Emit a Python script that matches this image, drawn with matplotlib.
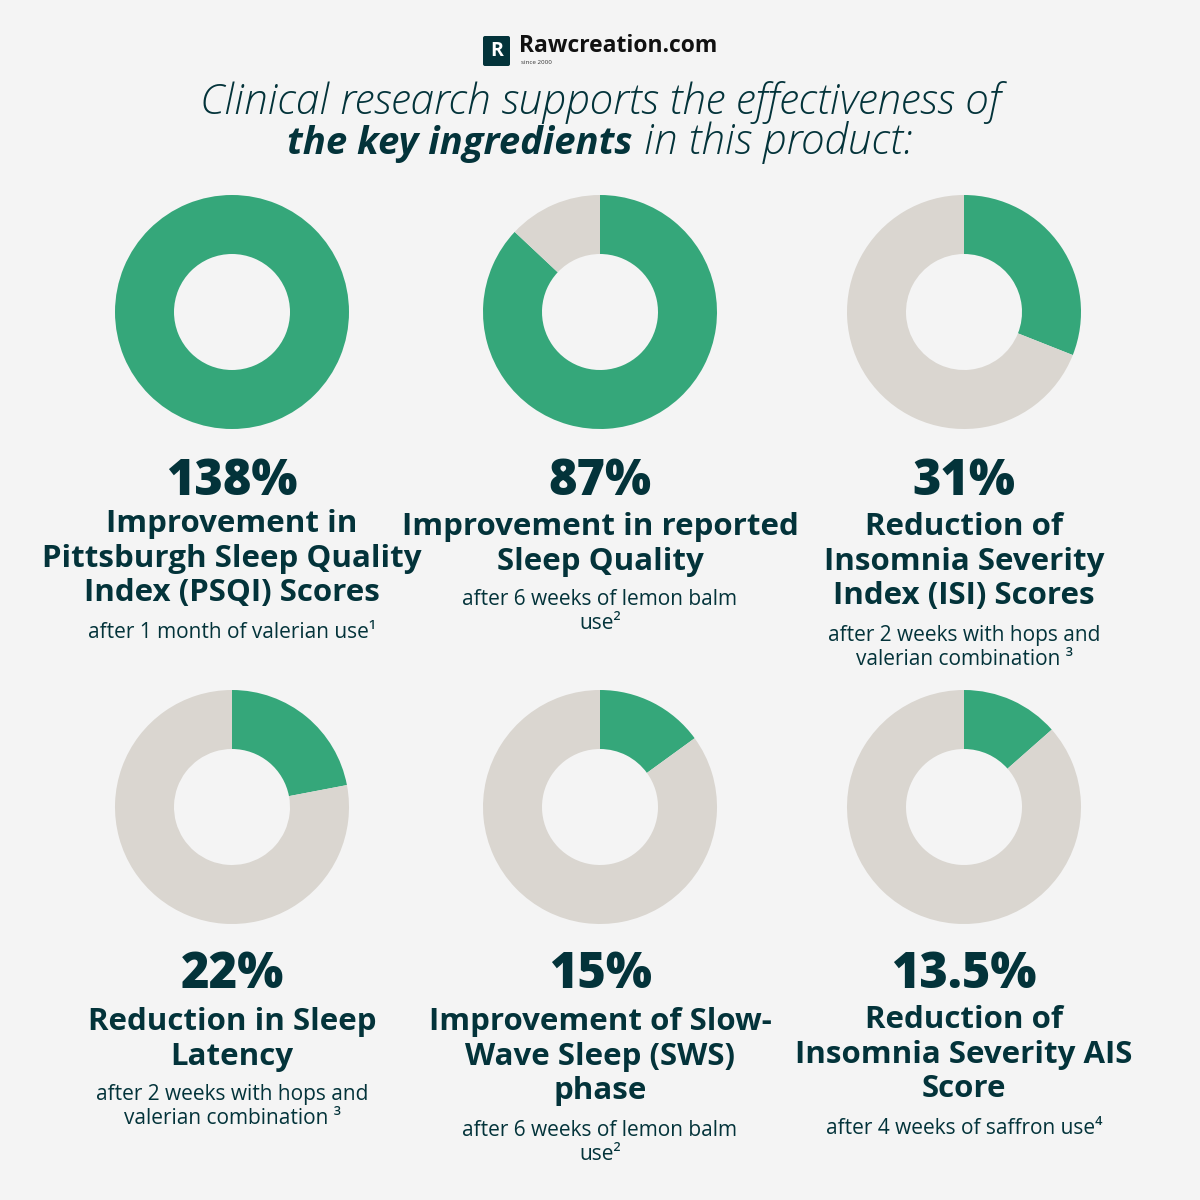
import matplotlib
matplotlib.use("Agg")
import matplotlib.pyplot as plt
from matplotlib.patches import FancyBboxPatch

values = [138, 87, 31, 22, 15, 13.5]
labels = [
    "Improvement in\nPittsburgh Sleep Quality\nIndex (PSQI) Scores",
    "Improvement in reported\nSleep Quality",
    "Reduction of\nInsomnia Severity\nIndex (ISI) Scores",
    "Reduction in Sleep\nLatency",
    "Improvement of Slow-\nWave Sleep (SWS)\nphase",
    "Reduction of\nInsomnia Severity AIS\nScore",
]
notes = [
    "after 1 month of valerian use\u00b9",
    "after 6 weeks of lemon balm\nuse\u00b2",
    "after 2 weeks with hops and\nvalerian combination \u00b3",
    "after 2 weeks with hops and\nvalerian combination \u00b3",
    "after 6 weeks of lemon balm\nuse\u00b2",
    "after 4 weeks of saffron use\u2074",
]

BG = "#F4F4F4"
GREEN = "#35A77A"
GREY = "#DAD6D0"
DARK = "#03333A"
FONT = ["Open Sans", "DejaVu Sans"]

fig = plt.figure(figsize=(12, 12), dpi=100, facecolor=BG)
ax = fig.add_axes([0, 0, 1, 1])
ax.set_facecolor(BG)

cols = [232, 600, 964]
rows = [312, 807]

def Y(y):
    return 1200 - y

for i, v in enumerate(values):
    cx = cols[i % 3]
    cy = rows[i // 3]
    part = min(v, 100)
    ax.pie([part, 100 - part], colors=[GREEN, GREY], center=(cx, Y(cy)),
           radius=117, startangle=90, counterclock=False,
           wedgeprops=dict(width=59, linewidth=0))

ax.set_xlim(0, 1200)
ax.set_ylim(0, 1200)
ax.set_aspect("auto")
ax.axis("off")

# block positions (pixels from top)
num_y = [482, 482, 482, 975, 975, 975]
lab_y = [509, 512, 512, 1007, 1007, 1005]
line_h = 36

for i, v in enumerate(values):
    cx = cols[i % 3]
    ax.text(cx, Y(num_y[i]), f"{v:g}%", ha="center", va="center",
            fontsize=35, fontweight="heavy", color=DARK, family=FONT)
    n = labels[i].count("\n") + 1
    ax.text(cx, Y(lab_y[i]), labels[i], ha="center", va="top",
            fontsize=22.5, fontweight="bold", color=DARK, family=FONT,
            linespacing=1.2)
    ny = lab_y[i] + 13 + n * line_h + 1 - 9
    ax.text(cx, Y(ny), notes[i], ha="center", va="top",
            fontsize=15, color=DARK, family=FONT, linespacing=1.2)

# title
ax.text(600, Y(114), "Clinical research supports the effectiveness of",
        ha="center", va="baseline", fontsize=30.5, style="italic",
        fontweight="light", color=DARK, family=FONT)
fig.canvas.draw()
r = fig.canvas.get_renderer()
t1 = ax.text(0, Y(154), "the key ingredients", ha="left", va="baseline",
             fontsize=27.5, style="italic", fontweight="bold", color=DARK,
             family=FONT)
t2 = ax.text(0, Y(154), " in this product:", ha="left", va="baseline",
             fontsize=30.5, style="italic", fontweight="light", color=DARK,
             family=FONT)
w1 = t1.get_window_extent(r).width
w2 = t2.get_window_extent(r).width
x0 = 600 - (w1 + w2) / 2
t1.set_x(x0)
t2.set_x(x0 + w1)

# logo
ax.add_patch(FancyBboxPatch((483, Y(66)), 27, 30,
                            boxstyle="round,pad=0,rounding_size=2",
                            fc=DARK, ec="none"))
ax.text(496.5, Y(51), "R", ha="center", va="center", fontsize=14,
        fontweight="bold", color="white", family=FONT)
ax.text(519, Y(46), "Rawcreation.com", ha="left", va="center",
        fontsize=16.5, fontweight="bold", color="#111111", family=FONT)
ax.text(521, Y(63), "since 2000", ha="left", va="center",
        fontsize=4.5, color="#333333", family=FONT)

fig.savefig("out.png", dpi=100, facecolor=BG)
